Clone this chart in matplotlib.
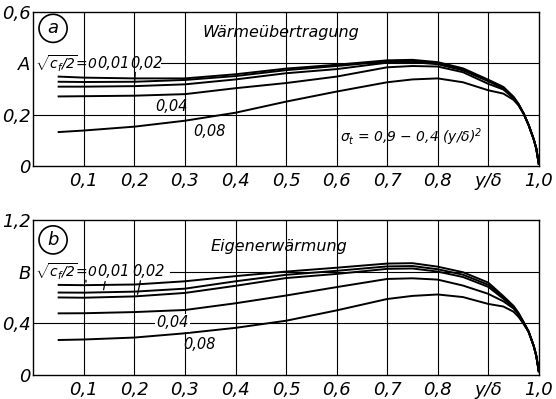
import matplotlib
matplotlib.use("Agg")
import matplotlib.pyplot as plt

plt.rcParams['font.family'] = ['Liberation Sans Narrow', 'DejaVu Sans']
plt.rcParams['font.style'] = 'italic'
plt.rcParams['mathtext.fontset'] = 'custom'
plt.rcParams['mathtext.rm'] = 'Liberation Sans Narrow:italic'
plt.rcParams['mathtext.it'] = 'Liberation Sans Narrow:italic'

# y/delta positions
x_pts = [0.05, 0.1, 0.2, 0.3, 0.4, 0.5, 0.6, 0.7, 0.75, 0.8, 0.85, 0.9,
         0.93, 0.95, 0.96, 0.97, 0.98, 0.99, 0.995, 1.0]

# panel a: Waermeuebertragung, one list per sqrt(cf/2)
A_0 = [0.348, 0.344, 0.341, 0.341, 0.357, 0.379, 0.394, 0.411, 0.413, 0.404, 0.380, 0.336,
       0.308, 0.270, 0.242, 0.205, 0.160, 0.105, 0.070, 0.010]
A_001 = [0.328, 0.327, 0.328, 0.335, 0.350, 0.373, 0.389, 0.407, 0.409, 0.400, 0.376, 0.333,
         0.305, 0.268, 0.241, 0.205, 0.160, 0.105, 0.070, 0.010]
A_002 = [0.309, 0.309, 0.311, 0.318, 0.337, 0.361, 0.377, 0.402, 0.404, 0.396, 0.372, 0.330,
         0.302, 0.266, 0.240, 0.205, 0.160, 0.105, 0.070, 0.010]
A_004 = [0.271, 0.272, 0.274, 0.280, 0.303, 0.323, 0.348, 0.384, 0.389, 0.387, 0.365, 0.320,
         0.298, 0.264, 0.239, 0.205, 0.160, 0.105, 0.070, 0.010]
A_008 = [0.133, 0.139, 0.154, 0.177, 0.208, 0.251, 0.290, 0.326, 0.337, 0.341, 0.326, 0.295,
         0.282, 0.258, 0.236, 0.204, 0.160, 0.105, 0.070, 0.010]

# panel b: Eigenerwaermung
B_0 = [0.697, 0.695, 0.700, 0.725, 0.765, 0.800, 0.830, 0.862, 0.865, 0.838, 0.795, 0.715,
       0.610, 0.535, 0.480, 0.410, 0.335, 0.225, 0.150, 0.030]
B_001 = [0.638, 0.637, 0.645, 0.668, 0.725, 0.775, 0.806, 0.840, 0.843, 0.818, 0.776, 0.698,
         0.600, 0.530, 0.475, 0.408, 0.335, 0.225, 0.150, 0.030]
B_002 = [0.600, 0.598, 0.608, 0.635, 0.690, 0.750, 0.782, 0.821, 0.824, 0.800, 0.758, 0.682,
         0.590, 0.525, 0.472, 0.405, 0.335, 0.225, 0.150, 0.030]
B_004 = [0.477, 0.478, 0.487, 0.503, 0.555, 0.615, 0.680, 0.743, 0.748, 0.738, 0.692, 0.628,
         0.570, 0.515, 0.465, 0.400, 0.335, 0.225, 0.150, 0.030]
B_008 = [0.271, 0.275, 0.290, 0.323, 0.365, 0.420, 0.500, 0.588, 0.612, 0.623, 0.603, 0.550,
         0.530, 0.490, 0.450, 0.395, 0.333, 0.225, 0.150, 0.030]

x_ticks = [0.1, 0.2, 0.3, 0.4, 0.5, 0.6, 0.7, 0.8, 0.9, 1.0]
x_labels = ['0,1', '0,2', '0,3', '0,4', '0,5', '0,6', '0,7', '0,8', 'y/δ', '1,0']
a_yticks = [0, 0.2, 0.4, 0.6]
a_ylabels = ['0', '0,2', 'A', '0,6']
b_yticks = [0, 0.4, 0.8, 1.2]
b_ylabels = ['0', '0,4', 'B', '1,2']

fig = plt.figure(figsize=(5.56, 3.99), dpi=100)
ax1 = fig.add_axes([0.060, 0.583, 0.909, 0.388])
ax2 = fig.add_axes([0.060, 0.060, 0.909, 0.389])


def style(ax, yticks, ylabels, ytop):
    ax.set_xlim(0, 1.0)
    ax.set_ylim(0, ytop)
    ax.set_xticks(x_ticks)
    ax.set_xticklabels(x_labels, fontsize=13)
    ax.set_yticks(yticks)
    ax.set_yticklabels(ylabels, fontsize=13)
    ax.tick_params(length=0, pad=4)
    ax.tick_params(axis='y', pad=2)
    for s in ax.spines.values():
        s.set_color('black')
        s.set_linewidth(1.0)
    for t in x_ticks[:-1]:
        ax.axvline(t, color='black', lw=0.8, zorder=1)


style(ax1, a_yticks, a_ylabels, 0.6)
style(ax2, b_yticks, b_ylabels, 1.2)

# horizontal grid lines
ax1.axhline(0.2, color='black', lw=0.8, zorder=1)
ax1.axhline(0.4, xmin=0.252, color='black', lw=0.8, zorder=1)
ax2.axhline(0.4, color='black', lw=0.8, zorder=1)
ax2.axhline(0.8, xmin=0.27, color='black', lw=0.8, zorder=1)

for ys in (A_0, A_001, A_002, A_004, A_008):
    ax1.plot(x_pts, ys, color='black', lw=1.4, zorder=3)
for ys in (B_0, B_001, B_002, B_004, B_008):
    ax2.plot(x_pts, ys, color='black', lw=1.4, zorder=3)

circ = dict(boxstyle='circle,pad=0.28', fc='white', ec='black', lw=1.2)
ax1.text(0.039, 0.535, 'a', fontsize=13, ha='center', va='center', bbox=circ, zorder=5)
ax2.text(0.039, 1.045, 'b', fontsize=13, ha='center', va='center', bbox=circ, zorder=5)

ax1.text(0.49, 0.517, 'Wärmeübertragung', fontsize=11.5, ha='center', va='center')
ax2.text(0.485, 0.991, 'Eigenerwärmung', fontsize=11.5, ha='center', va='center')

ax1.text(0.748, 0.114, r'$\sigma_t$ = 0,9 − 0,4 (y/δ)$^2$', fontsize=10, ha='center', va='center')

# curve parameter labels
lab = dict(fontsize=10.5, va='center')
ax1.text(0.003, 0.40, r'$\sqrt{c_f/2}$=0', ha='left', fontsize=10, va='center')
ax1.text(0.158, 0.40, '0,01', ha='center', **lab)
ax1.text(0.223, 0.40, '0,02', ha='center', **lab)
ax1.text(0.274, 0.232, '0,04', ha='center', **lab)
ax1.text(0.349, 0.137, '0,08', ha='center', **lab)

ax2.text(0.003, 0.80, r'$\sqrt{c_f/2}$=0', ha='left', fontsize=10, va='center')
ax2.text(0.158, 0.80, '0,01', ha='center', **lab)
ax2.text(0.2275, 0.80, '0,02', ha='center', **lab)
ax2.text(0.275, 0.403, '0,04', ha='center',
         bbox=dict(fc='white', ec='none', pad=1), zorder=4, **lab)
ax2.text(0.329, 0.24, '0,08', ha='center', **lab)

# short leader strokes from the labels down to the curves
lead = dict(arrowstyle='-', color='black', lw=0.9)
ax2.annotate('', xy=(0.104, 0.697), xytext=(0.104, 0.755), arrowprops=lead)
ax2.annotate('', xy=(0.138, 0.638), xytext=(0.143, 0.745), arrowprops=lead)
ax2.annotate('', xy=(0.205, 0.603), xytext=(0.213, 0.750), arrowprops=lead)
ax1.annotate('', xy=(0.200, 0.311), xytext=(0.202, 0.375), arrowprops=lead)

fig.savefig('out.png', dpi=100)
